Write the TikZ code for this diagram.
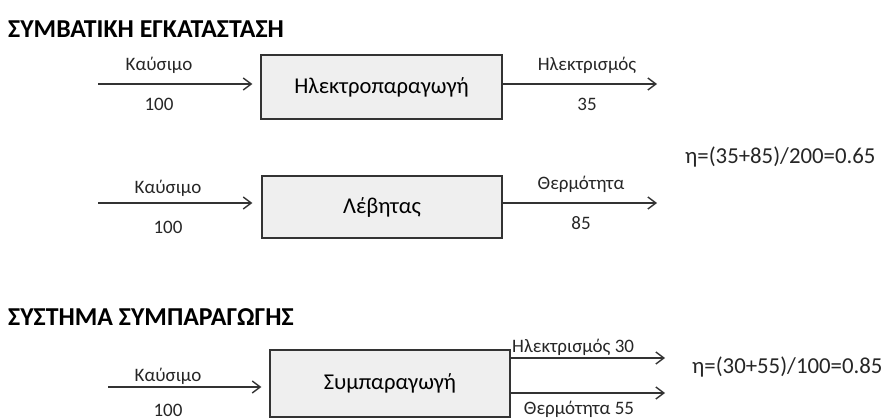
\documentclass[tikz,border=0pt]{standalone}
\usepackage{fontspec}
\setmainfont{Carlito}
\usetikzlibrary{arrows.meta,calc}
\definecolor{linec}{HTML}{333333}
\definecolor{boxfill}{HTML}{EFEFEF}
\begin{document}
\begin{tikzpicture}[x=1pt,y=-1pt,
  procbox/.style={draw=linec, fill=boxfill, line width=1.3pt, inner sep=0pt, font=\fontsize{22.6}{26}\selectfont},
  lbl/.style={font=\fontsize{19}{22}\selectfont, inner sep=0pt, text=black!85},
  ttl/.style={font=\fontsize{25.8}{28}\selectfont\bfseries, anchor=west, inner sep=0pt},
  eqn/.style={font=\fontsize{22.8}{26}\selectfont, anchor=west, inner sep=0pt, text=black!85},
  flow/.style={draw=linec, line width=1.4pt, -{Straight Barb[length=8pt,width=12pt,line width=1.4pt]}}
]
\useasboundingbox (0,0) rectangle (883,420);

% titles
\node[ttl] (t1) at (8,29.5) {ΣΥΜΒΑΤΙΚΗ ΕΓΚΑΤΑΣΤΑΣΗ};
\node[ttl] (t2) at (8,317.5) {ΣΥΣΤΗΜΑ ΣΥΜΠΑΡΑΓΩΓΗΣ};

% boxes
\node[procbox, minimum width=241pt, minimum height=64pt] (b1) at (381.5,87) {Ηλεκτροπαραγωγή};
\node[procbox, minimum width=240pt, minimum height=62pt] (b2) at (382,207) {Λέβητας};
\node[procbox, minimum width=240pt, minimum height=67pt] (b3) at (390,383.5) {Συμπαραγωγή};

% row 1
\coordinate (i1) at (98,84);
\coordinate (o1) at (657,84);
\draw[flow, shorten >=8pt] (i1) -- (i1 -| b1.west);
\draw[flow] (o1 -| b1.east) -- (o1);
\node[lbl] (k1) at (159,65) {Καύσιμο};
\node[lbl] (n1) at (159,104) {100};
\node[lbl] (e1) at (587,65) {Ηλεκτρισμός};
\node[lbl] (v1) at (587,104) {35};

% row 2
\coordinate (i2) at (98,203);
\coordinate (o2) at (657,203);
\draw[flow, shorten >=9pt] (i2) -- (i2 -| b2.west);
\draw[flow] (o2 -| b2.east) -- (o2);
\node[lbl] (k2) at (168,188) {Καύσιμο};
\node[lbl] (n2) at (168,227) {100};
\node[lbl] (h2) at (581,184) {Θερμότητα};
\node[lbl] (v2) at (581,223) {85};

\node[eqn] (eta1) at (685,157) {η=(35+85)/200=0.65};

% row 3
\coordinate (i3) at (108,387);
\coordinate (o3a) at (665,358);
\coordinate (o3b) at (665,393);
\draw[flow, shorten >=8pt] (i3) -- (i3 -| b3.west);
\draw[flow] (o3a -| b3.east) -- (o3a);
\draw[flow] (o3b -| b3.east) -- (o3b);
\node[lbl] (k3) at (168,376) {Καύσιμο};
\node[lbl] (n3) at (168,410.5) {100};
\node[lbl, anchor=west] (e3) at (512,347) {Ηλεκτρισμός 30};
\node[lbl] (h3) at (579,409) {Θερμότητα 55};

\node[eqn] (eta2) at (692,367) {η=(30+55)/100=0.85};
\end{tikzpicture}
\end{document}
